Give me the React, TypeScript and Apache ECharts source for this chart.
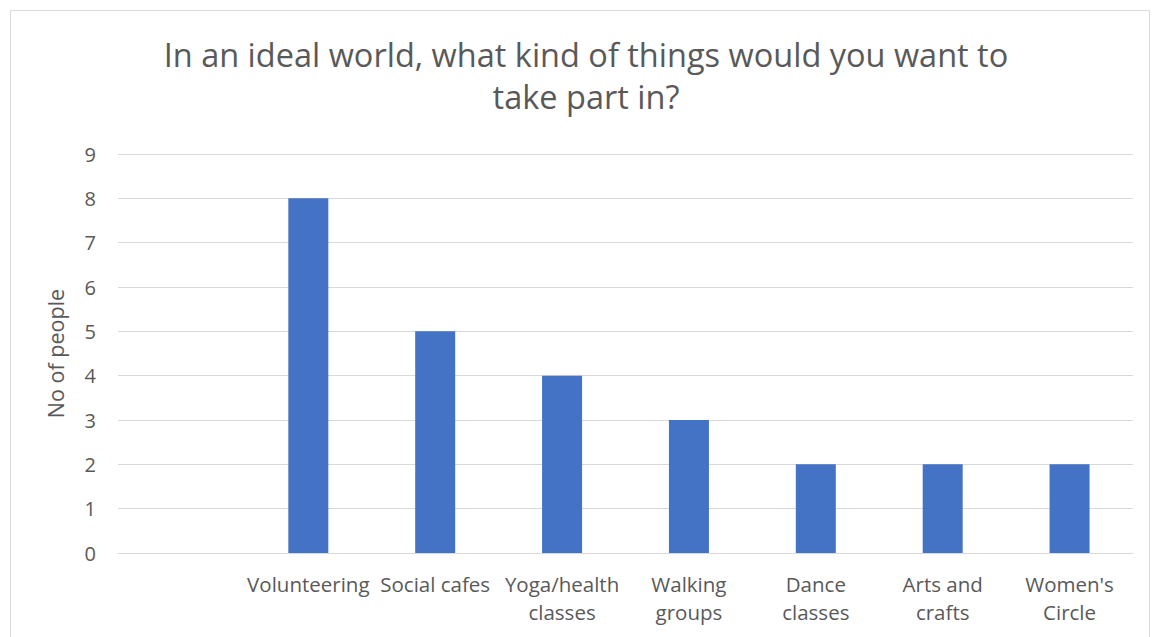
import React, { useEffect, useRef } from "react";
import * as echarts from "echarts";

const categories = ["", "Volunteering", "Social cafes", "Yoga/health classes", "Walking groups", "Dance classes", "Arts and crafts", "Women's Circle"];
const tickLabels = ["", "Volunteering", "Social cafes", "Yoga/health\nclasses", "Walking\ngroups", "Dance\nclasses", "Arts and\ncrafts", "Women's\nCircle"];
const values: (number | null)[] = [null, 8, 5, 4, 3, 2, 2, 2];
const titleText = "In an ideal world, what kind of things would you want to\ntake part in?";
const yAxisName = "No of people";

const FONT = "'Open Sans', 'Noto Sans', sans-serif";

export default function App() {
  const ref = useRef<HTMLDivElement>(null);
  useEffect(() => {
    document.body.style.margin = "0";
    const chart = echarts.init(ref.current!, undefined, { renderer: "svg" });
    chart.setOption({
      animation: false,
      backgroundColor: "#ffffff",
      title: {
        text: titleText,
        left: 581,
        top: 28,
        textAlign: "center",
        textStyle: { fontFamily: FONT, fontSize: 32.5, fontWeight: "normal", color: "#595959", lineHeight: 42 },
      },
      graphic: [
        {
          type: "rect",
          shape: { x: 10.5, y: 10.5, width: 1139, height: 640 },
          style: { fill: "none", stroke: "#D9D9D9", lineWidth: 1 },
          silent: true,
        },
      ],
      grid: { left: 118, right: 19, top: 154, bottom: 84 },
      xAxis: {
        type: "category",
        data: categories,
        axisLine: { lineStyle: { color: "#D9D9D9", width: 1 } },
        axisTick: { show: false },
        axisLabel: {
          interval: 0,
          margin: 17,
          fontFamily: FONT,
          fontSize: 20.5,
          color: "#595959",
          lineHeight: 28,
          formatter: (_v: string, i: number) => tickLabels[i],
        },
      },
      yAxis: {
        type: "value",
        min: 0,
        max: 9,
        interval: 1,
        name: yAxisName,
        nameLocation: "middle",
        nameGap: 52,
        nameTextStyle: { fontFamily: FONT, fontSize: 21.5, color: "#595959" },
        axisLine: { show: false },
        axisTick: { show: false },
        axisLabel: { margin: 22, fontFamily: FONT, fontSize: 20, color: "#595959" },
        splitLine: { lineStyle: { color: "#D9D9D9", width: 1 } },
      },
      series: [
        {
          type: "bar",
          data: values,
          barWidth: 40,
          itemStyle: { color: "#4472C4" },
        },
      ],
    });
    return () => chart.dispose();
  }, []);
  return <div ref={ref} style={{ width: 1152, height: 637 }} />;
}
